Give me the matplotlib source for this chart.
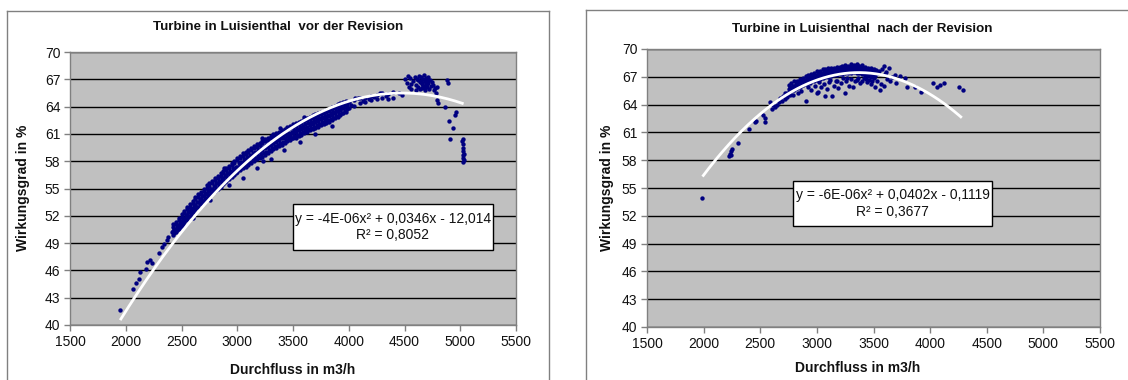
import numpy as np
import matplotlib
matplotlib.use("Agg")
import matplotlib.pyplot as plt
from matplotlib.lines import Line2D

plt.rcParams['font.family'] = ['Liberation Sans', 'DejaVu Sans']

# ---------------- texts / ticks ----------------
left_title = "Turbine in Luisienthal  vor der Revision"
right_title = "Turbine in Luisienthal  nach der Revision"
x_label = "Durchfluss in m3/h"
y_label = "Wirkungsgrad in %"
x_ticks = [1500, 2000, 2500, 3000, 3500, 4000, 4500, 5000, 5500]
y_ticks = [40, 43, 46, 49, 52, 55, 58, 61, 64, 67, 70]
left_eq = "y = -4E-06x² + 0,0346x - 12,014\nR² = 0,8052"
right_eq = "y = -6E-06x² + 0,0402x - 0,1119\nR² = 0,3677"

# ---------------- data: left chart (vor der Revision) ----------------
left_sparse_x = [1948, 2068, 2092, 2122, 2128, 2179, 2195, 2218, 2233, 2301, 2322, 2340, 2367, 2382, 2412,
                 2600, 2760, 2930, 3050, 3180, 3230, 3300, 3420, 3560, 3700, 3850, 2880, 3220, 3380, 3600]
left_sparse_y = [41.6, 44.0, 44.6, 45.1, 45.8, 46.1, 46.9, 47.1, 46.8, 47.95, 48.6, 48.9, 49.3, 49.7, 50.25,
                 51.8, 53.7, 55.4, 56.2, 57.2, 58.0, 58.2, 59.2, 60.1, 61.0, 61.9, 57.2, 60.5, 61.6, 62.9]

left_band_x = [2425, 2450, 2475, 2500, 2525, 2550, 2575, 2600, 2625, 2650, 2675, 2700, 2725, 2750,
               2775, 2800, 2825, 2850, 2875, 2900, 2925, 2950, 2975, 3000, 3025, 3050, 3075, 3100,
               3125, 3150, 3175, 3200, 3225, 3250, 3275, 3300, 3325, 3350, 3375, 3400, 3425, 3450,
               3475, 3500, 3525, 3550, 3575, 3600, 3625, 3650, 3675, 3700, 3725, 3750, 3775, 3800,
               3825, 3850, 3875, 3900, 3925, 3950, 3975]
left_band_xb = [2437, 2462, 2487, 2512, 2537, 2562, 2587, 2612, 2637, 2662, 2687, 2712, 2737, 2762,
                2787, 2812, 2837, 2862, 2887, 2912, 2937, 2962, 2987, 3012, 3037, 3062, 3087, 3112,
                3137, 3162, 3187, 3212, 3237, 3262, 3287, 3312, 3337, 3362, 3387, 3412, 3437, 3462,
                3487, 3512, 3537, 3562, 3587, 3612, 3637, 3662, 3687, 3712, 3737, 3762, 3787, 3812,
                3837, 3862, 3887, 3912, 3937, 3962, 3987]
left_band_r1 = [51.05, 51.35, 51.75, 52.15, 52.55, 52.95, 53.25, 53.65, 54.05, 54.35, 54.65, 54.95, 55.35,
                55.55, 55.85, 56.15, 56.35, 56.65, 56.95, 57.3, 57.5, 57.8, 58.0, 58.35, 58.55, 58.85,
                59.05, 59.25, 59.45, 59.65, 59.85, 60.05, 60.25, 60.45, 60.55, 60.75, 60.95, 61.05, 61.25,
                61.45, 61.55, 61.75, 61.85, 62.05, 62.15, 62.35, 62.45, 62.65, 62.75, 62.85, 63.05, 63.15,
                63.35, 63.45, 63.55, 63.65, 63.75, 63.95, 64.05, 64.25, 64.35, 64.55, 64.65]
left_band_r2 = [50.8, 51.1, 51.5, 51.9, 52.3, 52.7, 53.0, 53.4, 53.8, 54.1, 54.4, 54.7, 55.1, 55.3,
                55.6, 55.9, 56.1, 56.4, 56.7, 57.05, 57.25, 57.55, 57.75, 58.1, 58.3, 58.6, 58.8, 59.0,
                59.2, 59.4, 59.6, 59.8, 60.0, 60.2, 60.3, 60.5, 60.7, 60.8, 61.0, 61.2, 61.3, 61.5,
                61.6, 61.8, 61.9, 62.1, 62.2, 62.4, 62.5, 62.6, 62.8, 62.9, 63.1, 63.2, 63.3, 63.4,
                63.5, 63.7, 63.8, 64.0, 64.1, 64.3, 64.4]
left_band_r2b = [50.55, 50.85, 51.25, 51.65, 52.05, 52.4, 52.75, 53.15, 53.5, 53.8, 54.15, 54.45, 54.8,
                 55.0, 55.3, 55.6, 55.85, 56.1, 56.35, 56.75, 56.95, 57.2, 57.4, 57.75, 57.95, 58.2,
                 58.45, 58.65, 58.85, 59.05, 59.25, 59.45, 59.6, 59.8, 59.95, 60.15, 60.35, 60.45, 60.65,
                 60.85, 60.95, 61.15, 61.25, 61.45, 61.55, 61.75, 61.85, 62.05, 62.15, 62.3, 62.45, 62.6,
                 62.75, 62.9, 63.0, 63.1, 63.25, 63.4, 63.55, 63.75, 63.85, 64.05, 64.2]
left_band_r3 = [50.3, 50.6, 51.0, 51.4, 51.8, 52.1, 52.5, 52.9, 53.2, 53.5, 53.9, 54.2, 54.5, 54.7,
                55.0, 55.3, 55.6, 55.8, 56.0, 56.45, 56.65, 56.85, 57.05, 57.4, 57.6, 57.8, 58.1, 58.3,
                58.5, 58.7, 58.9, 59.1, 59.2, 59.4, 59.6, 59.8, 60.0, 60.1, 60.3, 60.5, 60.6, 60.8,
                60.9, 61.1, 61.2, 61.4, 61.5, 61.7, 61.8, 62.0, 62.1, 62.3, 62.4, 62.6, 62.7, 62.8,
                63.0, 63.1, 63.3, 63.5, 63.6, 63.8, 64.0]
left_band_r3b = [50.1, 50.4, 50.8, 51.15, 51.55, 51.9, 52.25, 52.65, 52.95, 53.25, 53.65, 53.9, 54.25,
                 54.45, 54.75, 55.0, 55.25, 55.5, 55.75, 56.15, 56.35, 56.55, 56.75, 57.1, 57.3, 57.5,
                 57.75, 57.95, 58.15, 58.35, 58.55, 58.75, 58.85, 59.05, 59.25, 59.45, 59.65, 59.8, 60.0,
                 60.15, 60.3, 60.5, 60.6, 60.8, 60.9, 61.1, 61.2, 61.4, 61.5, 61.7, 61.8, 62.0,
                 62.1, 62.3, 62.4, 62.5, 62.65, 62.8, 63.0, 63.2, 63.35, 63.55, 63.7]
left_band_r4 = [49.9, 50.2, 50.6, 50.9, 51.3, 51.7, 52.0, 52.4, 52.7, 53.0, 53.4, 53.6, 54.0, 54.2,
                54.5, 54.7, 54.9, 55.2, 55.5, 55.85, 56.05, 56.25, 56.45, 56.8, 57.0, 57.2, 57.4, 57.6,
                57.8, 58.0, 58.2, 58.4, 58.5, 58.7, 58.9, 59.1, 59.3, 59.5, 59.7, 59.8, 60.0, 60.2,
                60.3, 60.5, 60.6, 60.8, 60.9, 61.1, 61.2, 61.4, 61.5, 61.7, 61.8, 62.0, 62.1, 62.2,
                62.3, 62.5, 62.7, 62.9, 63.1, 63.3, 63.4]

left_top_x = [4000, 4000, 4020, 4050, 4050, 4080, 4100, 4100, 4130, 4150, 4150, 4180, 4200, 4200,
              4230, 4250, 4250, 4280, 4300, 4300, 4350, 4350, 4400, 4400, 4450, 4480, 4330, 4060]
left_top_y = [64.5, 63.8, 64.2, 64.7, 64.1, 64.9, 64.9, 64.4, 64.6, 65.0, 64.5, 64.8, 65.2, 64.7,
              65.1, 65.3, 64.8, 65.5, 65.5, 64.9, 65.4, 64.8, 65.6, 65.0, 65.5, 65.3, 65.2, 64.9]

left_cluster_x = [4505, 4520, 4530, 4540, 4550, 4555, 4560, 4575, 4590, 4600, 4605, 4615, 4620, 4630,
                  4635, 4640, 4650, 4655, 4660, 4665, 4670, 4675, 4680, 4685, 4690, 4695, 4700, 4705,
                  4710, 4715, 4720, 4730, 4735, 4745, 4760, 4765, 4770, 4780, 4790, 4800, 4790, 4880,
                  4890, 4860, 4950, 4965, 4900, 4935, 4905, 5015, 5028, 5022, 5022, 5022, 5022, 5022,
                  5022, 5030, 5030, 4645, 4660, 4690, 4710, 4625, 4675, 4700]
left_cluster_y = [67.0, 66.6, 67.4, 66.2, 67.1, 66.5, 65.9, 66.8, 67.3, 66.4, 65.8, 67.0, 66.2, 67.4,
                  66.7, 65.9, 67.2, 66.5, 66.0, 67.0, 66.3, 67.5, 66.8, 65.8, 67.1, 66.4, 66.9, 66.1,
                  67.3, 66.6, 65.9, 66.9, 66.3, 66.7, 66.4, 65.8, 66.0, 65.5, 64.7, 64.35, 66.2, 66.9,
                  66.55, 64.0, 63.1, 63.45, 62.4, 61.6, 60.4, 60.25, 60.4, 59.9, 59.5, 59.1, 58.7, 58.3,
                  57.95, 58.1, 58.8, 66.8, 66.6, 66.6, 66.9, 66.9, 66.2, 66.5]

# trend line (left)
left_fit_x = [1950, 2250, 2500, 2750, 3000, 3250, 3500, 3750, 4000, 4250, 4500, 4750, 5030]
left_fit_y = [40.55, 46.1, 50.2, 53.8, 56.96, 59.6, 61.75, 63.4, 64.6, 65.3, 65.5, 65.2, 64.3]

# ---------------- data: right chart (nach der Revision) ----------------
right_low_x = [1988, 2227, 2235, 2240, 2245, 2250, 2306, 2401, 2454, 2462, 2527, 2544, 2540, 2586,
               2600, 2630, 2650, 2674, 2690, 2700, 2720, 2734, 2740, 2760, 2610, 2665, 2715]
right_low_y = [53.95, 58.4, 58.7, 59.0, 58.6, 59.2, 59.9, 61.4, 62.1, 62.2, 62.9, 62.1, 62.6, 64.3,
               63.5, 63.7, 64.0, 64.7, 64.4, 64.9, 64.6, 65.2, 64.8, 65.0, 64.0, 64.3, 65.3]

right_band_x = [2750, 2775, 2800, 2825, 2850, 2875, 2900, 2925, 2950, 2975, 3000, 3025, 3050, 3075,
                3100, 3125, 3150, 3175, 3200, 3225, 3250, 3275, 3300, 3325, 3350, 3375, 3400, 3425,
                3450, 3475, 3500]
right_band_xb = [2762, 2787, 2812, 2837, 2862, 2887, 2912, 2937, 2962, 2987, 3012, 3037, 3062, 3087,
                 3112, 3137, 3162, 3187, 3212, 3237, 3262, 3287, 3312, 3337, 3362, 3387, 3412, 3437,
                 3462, 3487, 3512]
right_band_r1 = [66.1, 66.3, 66.5, 66.6, 66.8, 66.9, 67.1, 67.2, 67.3, 67.4, 67.6, 67.6, 67.8, 67.8,
                 67.9, 68.0, 68.0, 68.1, 68.1, 68.2, 68.3, 68.2, 68.4, 68.3, 68.4, 68.2, 68.3, 68.1,
                 68.0, 67.9, 67.8]
right_band_r2 = [65.9, 66.05, 66.25, 66.4, 66.6, 66.7, 66.85, 67.0, 67.1, 67.2, 67.35, 67.4, 67.55, 67.6,
                 67.7, 67.75, 67.8, 67.9, 67.9, 68.0, 68.05, 68.05, 68.15, 68.05, 68.15, 68.0, 68.0, 67.85,
                 67.75, 67.65, 67.55]
right_band_r3 = [65.7, 65.8, 66.0, 66.2, 66.4, 66.5, 66.6, 66.8, 66.9, 67.0, 67.1, 67.2, 67.3, 67.4,
                 67.5, 67.5, 67.6, 67.7, 67.7, 67.8, 67.8, 67.9, 67.9, 67.8, 67.9, 67.8, 67.7, 67.6,
                 67.5, 67.4, 67.3]
right_band_r4 = [65.5, 65.65, 65.8, 66.0, 66.15, 66.3, 66.4, 66.55, 66.7, 66.8, 66.9, 67.0, 67.1, 67.2,
                 67.25, 67.3, 67.4, 67.45, 67.5, 67.55, 67.6, 67.65, 67.65, 67.65, 67.65, 67.6, 67.5, 67.4,
                 67.3, 67.2, 67.1]
right_band_r5 = [65.3, 65.5, 65.6, 65.8, 65.9, 66.1, 66.2, 66.3, 66.5, 66.6, 66.7, 66.8, 66.9, 67.0,
                 67.0, 67.1, 67.2, 67.2, 67.3, 67.3, 67.4, 67.4, 67.4, 67.5, 67.4, 67.4, 67.3, 67.2,
                 67.1, 67.0, 66.9]

right_sparse_x = [2790, 2830, 2860, 2904, 2920, 2950, 2980, 3000, 3010, 3040, 3060, 3072, 3090, 3110,
                  3131, 3150, 3170, 3190, 3210, 3230, 3248, 3260, 3280, 3300, 3322, 3340, 3360, 3380,
                  3400, 3420, 3440, 3460, 3480, 3513, 3530, 3557, 3570, 3593, 3593, 3640, 3646, 3690,
                  3703, 3734, 3778, 3793, 3866, 3919, 4028, 4063, 4090, 4122, 4255, 4293, 3550, 3600,
                  3620, 3660, 3520, 3540, 3575, 3610, 2940, 3020, 3120, 3180, 3270, 3350, 3430, 3490]
right_sparse_y = [65.0, 65.2, 65.5, 64.4, 65.9, 65.6, 66.0, 65.3, 65.4, 65.9, 66.2, 64.9, 65.7, 66.4,
                  64.9, 66.0, 66.6, 65.8, 66.3, 66.9, 65.3, 66.5, 66.0, 66.8, 65.9, 66.5, 66.9, 66.3,
                  66.6, 66.9, 66.4, 66.7, 66.2, 65.9, 66.6, 65.6, 66.2, 66.0, 68.2, 68.0, 66.5, 67.2,
                  66.3, 67.1, 66.9, 65.9, 65.85, 65.4, 66.35, 65.85, 66.1, 66.3, 65.85, 65.6, 67.6, 67.3,
                  66.8, 67.0, 67.7, 67.4, 67.8, 67.5, 66.3, 66.4, 66.7, 66.6, 66.9, 66.7, 66.8, 66.6]

# trend line (right)
right_fit_x = [1990, 2250, 2500, 2750, 3000, 3250, 3500, 3750, 4000, 4280]
right_fit_y = [56.2, 60.1, 63.0, 65.2, 66.65, 67.35, 67.35, 66.6, 65.1, 62.6]

# ---------------- figure ----------------
W, H = 1128, 380
fig = plt.figure(figsize=(W / 100, H / 100), dpi=100)
fig.patch.set_facecolor('white')

def px_rect(x0, y0, x1, y1):
    return [x0 / W, 1 - y1 / H, (x1 - x0) / W, (y1 - y0) / H]

# chart frames
frame_c = '#808080'
for (xa, ya, xb, yb) in [(7, 11, 7, 380), (7, 11, 549, 11), (549, 11, 549, 380),
                         (586, 10, 586, 380), (586, 10, 1128, 10)]:
    fig.add_artist(Line2D([xa / W, xb / W], [1 - ya / H, 1 - yb / H], color=frame_c, lw=1.0))

navy = '#000080'
msize = 10

def style_axes(ax):
    ax.set_facecolor('#C0C0C0')
    ax.set_xlim(1500, 5500)
    ax.set_ylim(40, 70)
    ax.set_xticks(x_ticks)
    ax.set_yticks(y_ticks)
    ax.set_xticklabels([str(v) for v in x_ticks])
    ax.set_yticklabels([str(v) for v in y_ticks])
    ax.yaxis.grid(True, color='black', lw=1.0)
    ax.set_axisbelow(True)
    for s in ax.spines.values():
        s.set_color('#808080')
        s.set_linewidth(1.0)
    ax.tick_params(axis='both', direction='out', length=4, width=1, color='#808080',
                   labelsize=10, labelcolor='#111111', pad=3)

def make_panel(rect, title, title_xy, xlab_xy, ylab_xy, scat, fit, eq, eq_xy):
    ax = fig.add_axes(rect)
    style_axes(ax)
    for (xs, ys) in scat:
        ax.scatter(xs, ys, s=msize, c=navy, marker='o', linewidths=0, zorder=3)
    fx, fy = fit
    coef = np.polyfit(fx, fy, 2)
    xx = np.linspace(fx[0], fx[-1], 200)
    ax.plot(xx, np.polyval(coef, xx), color='white', lw=2.0, zorder=4, solid_capstyle='butt')
    fig.text(title_xy[0] / W, 1 - title_xy[1] / H, title, ha='center', va='center',
             fontsize=9.6, fontweight='bold', color='#111111')
    fig.text(xlab_xy[0] / W, 1 - xlab_xy[1] / H, x_label, ha='center', va='center',
             fontsize=10, fontweight='bold', color='#111111')
    fig.text(ylab_xy[0] / W, 1 - ylab_xy[1] / H, y_label, ha='center', va='center',
             fontsize=10, fontweight='bold', rotation=90, color='#111111')
    bx0, by0, bx1, by1 = eq_xy
    fig.add_artist(plt.Rectangle((bx0 / W, 1 - by1 / H), (bx1 - bx0) / W, (by1 - by0) / H,
                                 facecolor='white', edgecolor='black', lw=1.0, zorder=5))
    fig.text((bx0 + bx1) / 2 / W, 1 - (by0 + by1) / 2 / H, eq, ha='center', va='center',
             fontsize=10, linespacing=1.25, color='#111111', zorder=6)
    return ax

make_panel(px_rect(70, 52, 516, 325), left_title, (278, 27), (293, 370), (23, 188),
           [(left_sparse_x, left_sparse_y), (left_band_x, left_band_r1), (left_band_x, left_band_r2),
            (left_band_xb, left_band_r2b), (left_band_x, left_band_r3), (left_band_xb, left_band_r3b),
            (left_band_x, left_band_r4), (left_top_x, left_top_y), (left_cluster_x, left_cluster_y)],
           (left_fit_x, left_fit_y), left_eq, (293, 204, 493, 250))

make_panel(px_rect(647, 49, 1100, 327), right_title, (862, 29), (858, 368), (607, 188),
           [(right_low_x, right_low_y), (right_band_x, right_band_r1), (right_band_xb, right_band_r2),
            (right_band_x, right_band_r3), (right_band_xb, right_band_r4), (right_band_x, right_band_r5),
            (right_sparse_x, right_sparse_y)],
           (right_fit_x, right_fit_y), right_eq, (793, 181, 992, 226))

fig.savefig('out.png', dpi=100)
